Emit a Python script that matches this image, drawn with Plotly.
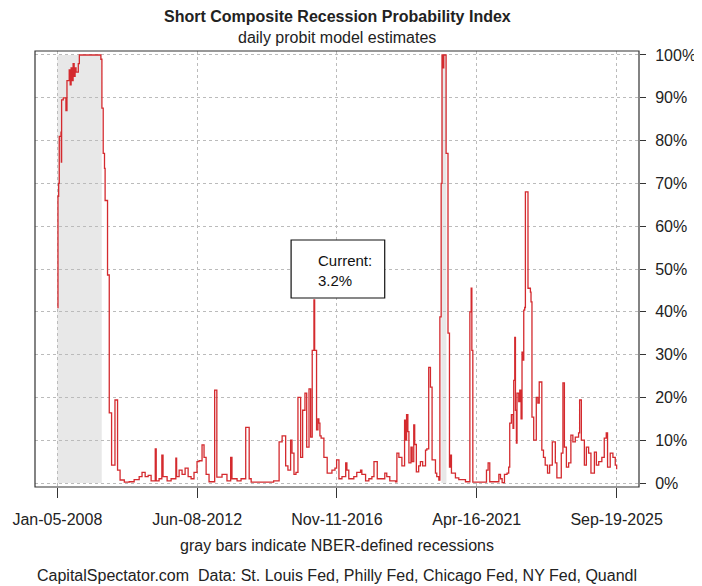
import plotly.graph_objects as go
import pandas as pd

dates = [
    "2008-01-05", "2008-01-12", "2008-01-20", "2008-01-27", "2008-02-16", "2008-02-20", "2008-02-23",
    "2008-03-13", "2008-04-13", "2008-04-25", "2008-05-21", "2008-06-01", "2008-06-12", "2008-06-24",
    "2008-07-05", "2008-07-17", "2008-07-28", "2008-08-08", "2008-09-03", "2008-09-15", "2009-05-22",
    "2009-06-03", "2009-06-18", "2009-07-03", "2009-07-10", "2009-08-07", "2009-08-27", "2009-09-23",
    "2009-11-01", "2009-12-01", "2009-12-30", "2010-02-17", "2010-04-15", "2010-06-11", "2010-08-08",
    "2010-09-10", "2010-10-16", "2010-11-20", "2010-12-24", "2011-02-10", "2011-02-21", "2011-03-26",
    "2011-04-27", "2011-05-11", "2011-06-27", "2011-08-12", "2011-10-06", "2011-10-15", "2011-11-13",
    "2011-12-17", "2012-01-21", "2012-02-25", "2012-03-30", "2012-05-03", "2012-06-07", "2012-06-30",
    "2012-08-04", "2012-08-27", "2012-09-20", "2012-10-24", "2012-12-28", "2013-01-22", "2013-03-23",
    "2013-05-19", "2013-07-01", "2013-07-16", "2013-09-13", "2013-10-29", "2013-12-22", "2014-01-31",
    "2014-02-23", "2014-11-10", "2015-01-12", "2015-02-16", "2015-03-29", "2015-04-24", "2015-05-25",
    "2015-06-10", "2015-07-03", "2015-07-26", "2015-08-18", "2015-09-18", "2015-10-11", "2015-11-07",
    "2015-11-27", "2015-12-24", "2016-01-12", "2016-01-30", "2016-02-19", "2016-02-27", "2016-03-20",
    "2016-04-05", "2016-04-16", "2016-04-28", "2016-05-12", "2016-06-13", "2016-07-21", "2016-09-14",
    "2016-10-19", "2016-11-07", "2016-12-04", "2017-01-08", "2017-02-20", "2017-03-06", "2017-03-28",
    "2017-05-25", "2017-06-28", "2017-08-11", "2017-08-26", "2017-10-08", "2017-11-15", "2017-12-20",
    "2018-01-13", "2018-02-20", "2018-04-02", "2018-05-18", "2018-06-10", "2018-07-15", "2018-09-20",
    "2018-10-05", "2018-10-28", "2018-12-02", "2019-01-02", "2019-01-14", "2019-01-25", "2019-02-09",
    "2019-02-21", "2019-03-17", "2019-03-31", "2019-04-18", "2019-04-29", "2019-05-18", "2019-06-14",
    "2019-07-04", "2019-07-30", "2019-09-01", "2019-09-16", "2019-10-08", "2019-10-28", "2019-11-16",
    "2019-12-25", "2020-01-09", "2020-02-02", "2020-02-14", "2020-02-29", "2020-03-10", "2020-03-22",
    "2020-03-30", "2020-04-26", "2020-05-18", "2020-06-04", "2020-06-15", "2020-06-27", "2020-08-12",
    "2020-09-20", "2020-12-06", "2021-01-26", "2021-02-10", "2021-02-18", "2021-03-01", "2021-08-06",
    "2021-08-25", "2021-09-13", "2021-12-27", "2022-01-15", "2022-02-03", "2022-03-02", "2022-04-01",
    "2022-04-20", "2022-05-02", "2022-05-21", "2022-06-09", "2022-06-17", "2022-06-29", "2022-07-07",
    "2022-07-18", "2022-07-25", "2022-08-14", "2022-08-26", "2022-09-10", "2022-09-21", "2022-10-03",
    "2022-10-11", "2022-10-22", "2022-10-30", "2022-11-29", "2022-12-27", "2023-01-03", "2023-01-14",
    "2023-02-03", "2023-03-05", "2023-03-23", "2023-04-08", "2023-05-08", "2023-05-27", "2023-06-16",
    "2023-07-13", "2023-08-06", "2023-09-06", "2023-10-11", "2023-10-29", "2023-12-19", "2024-01-07",
    "2024-01-24", "2024-02-16", "2024-03-13", "2024-04-08", "2024-05-01", "2024-05-29", "2024-07-06",
    "2024-07-18", "2024-08-07", "2024-09-11", "2024-10-04", "2024-10-30", "2024-11-26", "2025-01-05",
    "2025-01-28", "2025-02-24", "2025-04-01", "2025-04-29", "2025-05-22", "2025-06-06", "2025-07-07",
    "2025-08-07", "2025-09-03", "2025-09-19",
]

probability = [
    41, 67, 70, 81, 82, 75, 89.5,
    90, 87, 94, 96.5, 93, 97, 94,
    98, 95, 97, 96, 98, 100, 99,
    87.6, 77, 73.5, 66, 48.6, 16.4, 4.2,
    19.4, 3, 0.7, 0.2, 0.3, 0.8, 1.5,
    2.5, 1.5, 1.8, 0.5, 8, 0.5, 1,
    6.5, 1.5, 0.5, 1.0, 5.8, 1.5, 3,
    2, 3.5, 1.5, 1, 2.5, 5, 5.2,
    8.9, 6, 2, 0.3, 21.7, 1.4, 2,
    0.5, 6, 1, 0.5, 1, 13, 1,
    0.2, 0.5, 9.6, 11, 4, 3, 10,
    7, 2, 2.5, 20, 6, 17, 21,
    8.4, 22, 10.7, 31, 42.8, 31, 12.4,
    15, 14, 11, 10.5, 6, 2.3, 3,
    3.5, 5.4, 1, 1.5, 4.7, 3, 1,
    1.5, 2.5, 3, 2, 0.5, 1, 1.5,
    5, 1, 1, 2.3, 1.5, 0.5, 0.3,
    7, 6, 4, 14.7, 10, 16, 12,
    4.7, 8.4, 5, 13.6, 9, 2.6, 4,
    5, 4, 7.7, 8, 27, 22.4, 5.4,
    2.3, 1.5, 0.7, 38.8, 70, 100, 97,
    100, 77, 35, 3.7, 6.5, 2.3, 1.2,
    0.8, 0.3, 40, 45.5, 31, 0.2, 3,
    4.7, 0.3, 2, 1, 0.1, 2, 2.3,
    3.7, 14, 16, 12.8, 24, 34, 17,
    9.3, 21, 19, 21.7, 15, 30.6, 28.7,
    40.4, 41, 68, 45.5, 44.6, 42.3, 15.4,
    10, 20, 18.7, 23.6, 7.7, 6, 4.2,
    2.3, 4.2, 9.6, 4.7, 1.2, 7, 23.4,
    8.4, 3.7, 4.7, 11.2, 9.6, 10.7, 11.7,
    19.4, 10, 4.2, 8.4, 7, 2.3, 7.2,
    4.2, 5, 6, 10.5, 11.7, 3.7, 7,
    6, 4.2, 3.2,
]

recession_starts = ["2008-01-05", "2020-03-01"]
recession_ends = ["2009-06-01", "2020-04-30"]

tick_dates = ["2008-01-05", "2012-06-08", "2016-11-11", "2021-04-16", "2025-09-19"]
tick_labels = ["Jan-05-2008", "Jun-08-2012", "Nov-11-2016", "Apr-16-2021", "Sep-19-2025"]
y_ticks = [0, 10, 20, 30, 40, 50, 60, 70, 80, 90, 100]
y_labels = [f"{v}%" for v in y_ticks]

current_value = probability[-1]

FONT = "Liberation Sans, Arial, sans-serif"
FS = 16

x_dt = pd.to_datetime(dates)
span = x_dt[-1] - x_dt[0]
x_range = [x_dt[0] - span * 0.04, x_dt[-1] + span * 0.04]

fig = go.Figure()

fig.add_trace(go.Scatter(
    x=dates, y=probability, mode="lines", line_shape="hv",
    line=dict(color="#D42A2E", width=1.3), showlegend=False,
))

for s, e in zip(recession_starts, recession_ends):
    fig.add_shape(type="rect", xref="x", yref="y", x0=s, x1=e, y0=0, y1=100,
                  fillcolor="#E8E8E8", line_width=0, layer="below")

# Box around the plot
fig.add_shape(type="rect", xref="paper", yref="paper", x0=0, x1=1, y0=0, y1=1,
              line=dict(color="#333333", width=1.2), fillcolor="rgba(0,0,0,0)")

# Current value box
fig.add_shape(type="rect", xref="paper", yref="paper", x0=0.424, x1=0.579, y0=0.4335, y1=0.5665,
              line=dict(color="#111111", width=1.2), fillcolor="white")
fig.add_annotation(xref="paper", yref="paper", x=0.466, y=0.497, xanchor="left", yanchor="middle",
                   text=f"Current:<br>{current_value}%", showarrow=False, align="left",
                   font=dict(family=FONT, size=FS - 1, color="#111111"))

fig.add_annotation(xref="paper", yref="paper", x=0.5, y=1.078, xanchor="center", yanchor="middle",
                   text="<b>Short Composite Recession Probability Index</b>", showarrow=False,
                   font=dict(family=FONT, size=FS, color="#222222"))
fig.add_annotation(xref="paper", yref="paper", x=0.5, y=1.032, xanchor="center", yanchor="middle",
                   text="daily probit model estimates", showarrow=False,
                   font=dict(family=FONT, size=FS, color="#222222"))
fig.add_annotation(xref="paper", yref="paper", x=0.5, y=-0.135, xanchor="center", yanchor="middle",
                   text="gray bars indicate NBER-defined recessions", showarrow=False,
                   font=dict(family=FONT, size=FS, color="#222222"))
fig.add_annotation(xref="paper", yref="paper", x=0.5, y=-0.203, xanchor="center", yanchor="middle",
                   text="CapitalSpectator.com  Data: St. Louis Fed, Philly Fed, Chicago Fed, NY Fed, Quandl",
                   showarrow=False, font=dict(family=FONT, size=FS, color="#222222"))

# The page body adds an 8px margin, so the figure is sized and offset to compensate.
fig.update_layout(
    width=694, height=578,
    margin=dict(l=27, r=63, t=43, b=99, autoexpand=False),
    paper_bgcolor="white", plot_bgcolor="white",
    font=dict(family=FONT, size=FS, color="#222222"),
    xaxis=dict(
        type="date", range=x_range, tickvals=tick_dates, ticktext=tick_labels,
        ticks="outside", ticklen=10, tickcolor="#333333", tickwidth=1.2,
        showgrid=True, gridcolor="#BBBBBB", griddash="dot", gridwidth=1,
        zeroline=False, showline=False, ticklabelstandoff=8, automargin=False,
    ),
    yaxis=dict(
        side="right", range=[-0.93, 100.93], tickvals=y_ticks, ticktext=y_labels,
        ticks="outside", ticklen=6, tickcolor="#333333", tickwidth=1.2,
        showgrid=True, gridcolor="#BBBBBB", griddash="dot", gridwidth=1,
        zeroline=False, showline=False, ticklabelstandoff=6, automargin=False,
    ),
)

fig.write_html("out.html")
